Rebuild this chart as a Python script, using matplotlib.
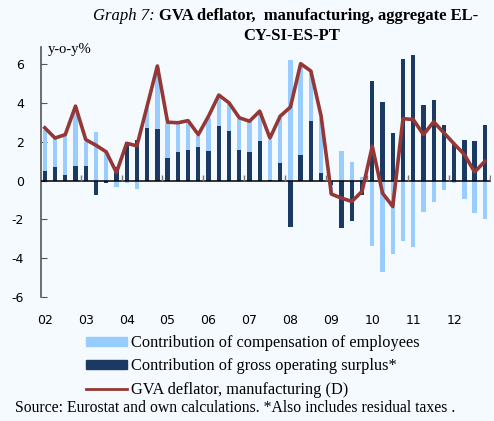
import numpy as np
import matplotlib.pyplot as plt
from matplotlib.patches import Patch
from matplotlib.lines import Line2D

plt.rcParams['axes.unicode_minus'] = False

# quarterly data 2002Q1 - 2012Q4, y-o-y %
years = ['02', '03', '04', '05', '06', '07', '08', '09', '10', '11', '12']
comp = [2.14, 1.51, 2.09, 3.06, 1.24, 2.49, 1.52, -0.30, -0.14, -0.43, 1.04, 3.16,
        1.83, 1.49, 1.50, 0.56, 1.70, 1.45, 1.40, 1.57, 1.57, 1.35, 2.07, 2.33,
        6.22, 4.57, 2.51, 2.85, -0.50, 1.52, 0.97, 0.21, -3.35, -4.73, -3.80, -3.11,
        -3.40, -1.59, -1.12, -0.47, -0.12, -0.93, -1.64, -1.97]
gos = [0.50, 0.69, 0.29, 0.74, 0.76, -0.73, -0.10, 0.70, 2.00, 2.12, 2.73, 2.68,
       1.16, 1.50, 1.57, 1.74, 1.55, 2.83, 2.54, 1.59, 1.50, 2.07, 0.05, 0.92,
       -2.37, 1.35, 3.07, 0.40, -0.20, -2.45, -2.10, -0.73, 5.15, 4.08, 2.47, 6.27,
       6.48, 3.90, 4.15, 2.85, 1.87, 2.10, 2.07, 2.90]
deflator = [2.73, 2.20, 2.38, 3.85, 2.12, 1.83, 1.49, 0.42, 1.93, 1.80, 3.85, 5.92,
            3.02, 2.99, 3.10, 2.38, 3.33, 4.42, 4.02, 3.25, 3.07, 3.59, 2.20, 3.33,
            3.80, 6.04, 5.66, 3.33, -0.69, -0.90, -1.07, -0.55, 1.78, -0.64, -1.33, 3.20,
            3.16, 2.38, 3.04, 2.47, 1.90, 1.35, 0.45, 1.00]

comp = np.array(comp)
gos = np.array(gos)
x = np.arange(len(comp))

light = '#99ccff'
dark = '#1b3a63'
red = '#953735'
bg = '#f5faff'

fig = plt.figure(figsize=(4.94, 4.21), dpi=100, facecolor=bg)
ax = fig.add_axes([40.7 / 494, 1 - 297 / 421, (491 - 40.7) / 494, 250 / 421])
ax.set_facecolor(bg)

# excel-like stacking: same sign stacks on gos, opposite sign starts at zero
same = np.sign(comp) == np.sign(gos)
bottom = np.where(same, gos, 0)
ax.bar(x, gos, width=0.42, color=dark, zorder=2)
ax.bar(x, comp, width=0.42, bottom=bottom, color=light, zorder=2)
ax.plot(x, deflator, color=red, lw=2.6, zorder=4)

ax.axhline(0, color='black', lw=1.1, zorder=3)
bounds = np.arange(3.5, len(comp), 4)
ax.vlines(bounds, 0, 0.28, color='#777777', lw=1, zorder=3)

ax.set_xlim(-0.4, len(comp) - 0.4)
ax.set_ylim(-6, 6.9)
ax.set_yticks(range(-6, 7, 2))
ax.set_xticks(x[::4])
ax.set_xticklabels(years)
for s in ['top', 'right', 'bottom']:
    ax.spines[s].set_visible(False)
ax.spines['left'].set_color('#555555')
ax.spines['left'].set_linewidth(1.2)
ax.tick_params(axis='y', direction='in', length=4, color='#555555', pad=12, labelsize=9)
ax.tick_params(axis='x', length=0, pad=12, labelsize=9)

fig.text(48 / 494, 1 - 50 / 421, 'y-o-y%', family='Liberation Serif', fontsize=10.5, va='center')

# title: italic part + bold part
t1 = fig.text(93 / 494, 1 - 16 / 421, 'Graph 7:', family='Liberation Serif', style='italic',
              fontsize=12, va='center')
fig.canvas.draw()
bb = t1.get_window_extent()
fig.text(bb.x1 / 494 + 4 / 494, 1 - 16 / 421, 'GVA deflator,  manufacturing, aggregate EL-',
         family='Liberation Serif', weight='bold', fontsize=12, va='center')
fig.text(292 / 494, 1 - 36 / 421, 'CY-SI-ES-PT', family='Liberation Serif', weight='bold',
         fontsize=12, va='center', ha='center')

handles = [Patch(color=light), Patch(color=dark), Line2D([], [], color=red, lw=2)]
labels = ['Contribution of compensation of employees',
          'Contribution of gross operating surplus*',
          'GVA deflator, manufacturing (D)']
fig.legend(handles, labels, loc='upper left', bbox_to_anchor=(86 / 494, 1 - 335 / 421),
           frameon=False, prop={'family': 'Liberation Serif', 'size': 11.8},
           handlelength=2.5, handleheight=0.45, handletextpad=0.25, labelspacing=0.45,
           borderpad=0, borderaxespad=0)

fig.text(15 / 494, 1 - 408 / 421,
         'Source: Eurostat and own calculations. *Also includes residual taxes .',
         family='Liberation Serif', fontsize=11.3, va='center')

fig.savefig('out.png', dpi=100, facecolor=bg)
